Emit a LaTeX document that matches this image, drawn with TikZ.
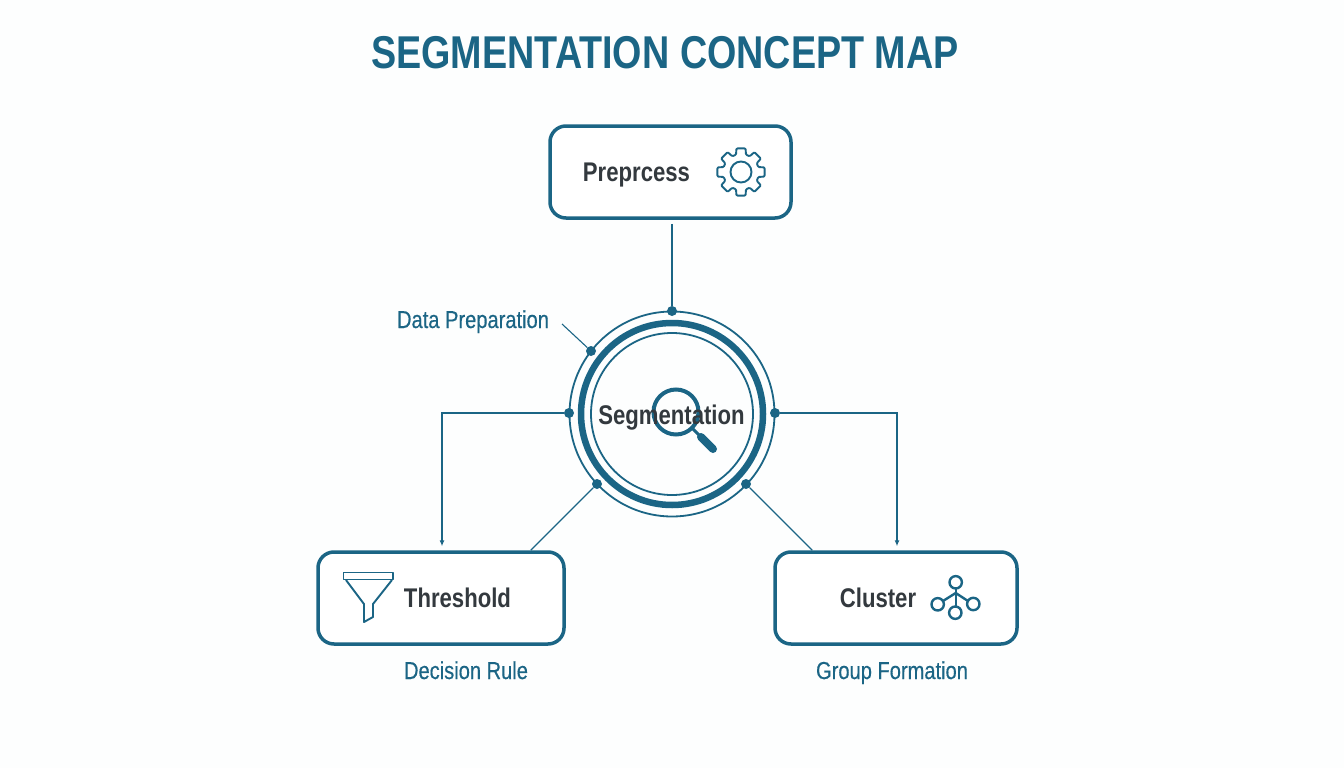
\documentclass[tikz,border=0pt]{standalone}
\usepackage{fontspec}
\setmainfont[FakeStretch=0.82]{Liberation Sans}
\newfontfamily\notefont[FakeStretch=0.82,FakeBold=0.4]{Liberation Sans}
\usepackage{tikz}
\usetikzlibrary{arrows.meta}

\definecolor{teal}{HTML}{1B6585}
\definecolor{ink}{HTML}{33393E}
\definecolor{paper}{HTML}{FDFEFE}

\begin{document}
\begin{tikzpicture}[x=1pt,y=-1pt,
    box/.style={draw=teal,line width=3.5pt,rounded corners=16pt,fill=white,minimum height=92pt,inner sep=0pt},
    boxtext/.style={text=ink,anchor=base,font=\fontsize{27}{30}\selectfont\bfseries,inner sep=0pt},
    note/.style={text=teal,anchor=base,font=\fontsize{24.5}{28}\notefont,inner sep=0pt},
    dot/.style={circle,fill=teal,inner sep=0pt,minimum size=10pt},
    link/.style={draw=teal,line width=1.1pt},
    icon/.style={draw=teal,line width=1.9pt,line join=round},
    treeicon/.style={icon,line width=2.4pt}]

\useasboundingbox[fill=paper] (0,0) rectangle (1344,768);

\node[text=teal,anchor=base,inner sep=0pt,font=\fontsize{46}{52}\selectfont\bfseries] (title) at (665,69) {SEGMENTATION CONCEPT MAP};

% boxes
\node[box,minimum width=241pt] (prep) at (670.5,172) {};
\node[box,minimum width=246pt] (thresh) at (441,598) {};
\node[box,minimum width=242pt] (cluster) at (896,598) {};

% centre rings
\node[circle,draw=teal,line width=1.8pt,minimum size=205pt,inner sep=0pt] (outer) at (672,414) {};
\node[circle,draw=teal,line width=6.5pt,minimum size=182pt,inner sep=0pt] (ring) at (672,414) {};
\node[circle,draw=teal,line width=1.8pt,minimum size=162pt,inner sep=0pt] (inner) at (672,414) {};

\begin{scope}[every node/.style={dot}]
    \node (dtop) at (672,311) {};
    \node (dnote) at (591,351) {};
    \node (dleft) at (569,413) {};
    \node (dright) at (775,413) {};
    \node (dlow) at (597,484) {};
    \node (drlow) at (746,484) {};
\end{scope}

% magnifier
\draw[teal,line width=4pt] (676,412) circle (22.5pt);
\draw[teal,line width=3pt] (692,428) -- (702,438);
\draw[teal,line width=8pt,line cap=round] (701,437) -- (713,449);

% texts
\node[boxtext] (preptext) at (636.5,181) {Preprcess};
\node[boxtext] (threshtext) at (457.5,607) {Threshold};
\node[boxtext] (clustertext) at (878,607) {Cluster};
\node[boxtext] (segtext) at (671.5,424) {Segmentation};
\node[note] (dpnote) at (473,328) {Data Preparation};
\node[note] (rulenote) at (466,679) {Decision Rule};
\node[note] (groupnote) at (892,679) {Group Formation};

% connectors
\coordinate (dpend) at (562,324);
\draw[link,shorten <=4pt] (prep.south -| dtop) -- (dtop);
\draw[link] (dpend) -- (dnote);
\draw[link,-{Latex[length=6pt,width=5pt]},shorten >=4pt] (dleft) -| ([xshift=1pt]thresh.north);
\draw[link,-{Latex[length=6pt,width=5pt]},shorten >=4pt] (dright) -| ([xshift=1pt]cluster.north);
\draw[link] (dlow) -- ([xshift=-35pt]thresh.north east);
\draw[link] (drlow) -- ([xshift=39pt]cluster.north west);

% gear
\begin{scope}[shift={(741,172)},y=1pt]
    \draw[icon,rounded corners=1pt] (-11:24) \foreach \a in {0,45,...,315} {
        -- (\a-11:24) -- (\a+11:24) -- (\a+16:18) -- (\a+29:18)} -- cycle;
    \draw[icon] (0,0) circle (10.5pt);
\end{scope}

% funnel
\draw[icon] (343.5,572.5) rectangle (393,579.5);
\draw[icon] (346,580) -- (364,604) -- (364,622) -- (373,617) -- (373,604) -- (392,580);

% tree
\draw[treeicon] (955.7,588.5) -- (955.7,606.5);
\draw[treeicon] (943,601) -- (955.7,593) -- (968,601);
\draw[treeicon] (955.7,582.3) circle (6.2pt);
\draw[treeicon] (937.7,604.3) circle (6.2pt);
\draw[treeicon] (973.3,604) circle (6.2pt);
\draw[treeicon] (955.3,612.7) circle (6.2pt);

\end{tikzpicture}
\end{document}
